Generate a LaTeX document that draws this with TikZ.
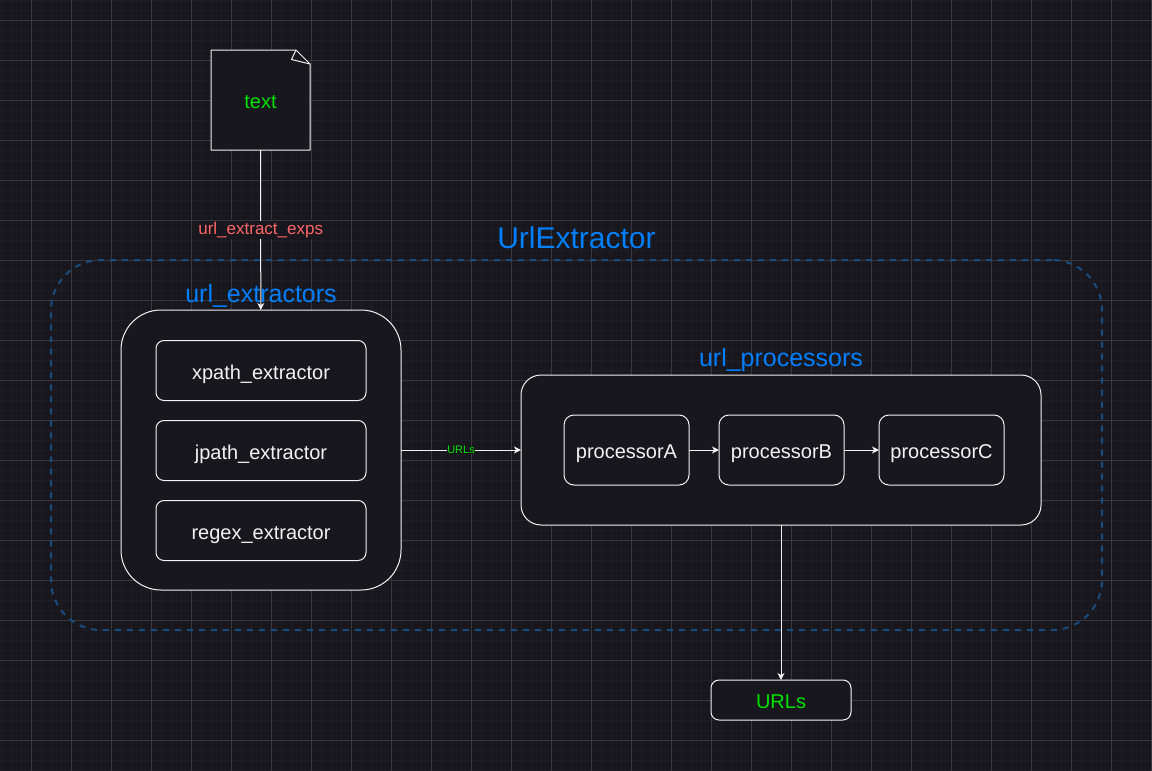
\documentclass[tikz,border=0pt]{standalone}
\usepackage{fontspec}
\setmainfont{Liberation Sans}
\usetikzlibrary{arrows.meta,positioning}

\definecolor{bgdark}{RGB}{24,23,30}
\definecolor{gridmajor}{RGB}{56,55,62}
\definecolor{gridminor}{RGB}{31,30,37}
\definecolor{edgewhite}{RGB}{242,242,242}
\definecolor{titleblue}{RGB}{0,127,255}
\definecolor{groupblue}{RGB}{26,76,126}
\definecolor{okgreen}{RGB}{0,228,0}
\definecolor{expred}{RGB}{255,102,102}

\tikzset{
    box/.style={draw=edgewhite, fill=bgdark, text=edgewhite, line width=1pt,
        inner sep=0pt, outer sep=0pt, text height=19pt, text depth=2pt,
        font=\fontsize{20}{24}\selectfont},
    extractor/.style={box, minimum width=210, minimum height=60, rounded corners=8},
    processor/.style={box, minimum width=125, minimum height=70, rounded corners=10},
    title/.style={text=titleblue, inner sep=0pt, anchor=base},
    flow/.style={draw=edgewhite, line width=1pt, -{Stealth[length=7pt,width=7pt,inset=2pt]}},
}

\begin{document}
\begin{tikzpicture}[x=1pt, y=-1pt]
    \useasboundingbox (0,0) rectangle (1152,771);
    \fill[bgdark] (0,0) rectangle (1152,771);
    \foreach \gx in {1.5,11.5,...,1151.5}
        \draw[gridminor, line width=0.7pt] (\gx,0) -- (\gx,771);
    \foreach \gy in {0,10,...,770}
        \draw[gridminor, line width=0.7pt] (0,\gy) -- (1152,\gy);
    \foreach \gx in {31.5,71.5,...,1151.5}
        \draw[gridmajor, line width=0.8pt] (\gx,0) -- (\gx,771);
    \foreach \gy in {20,60,...,740}
        \draw[gridmajor, line width=0.8pt] (0,\gy) -- (1152,\gy);

    \node[draw=groupblue, line width=2pt, dash pattern=on 6pt off 6pt, rounded corners=50,
        minimum width=1051, minimum height=370, inner sep=0pt] (grp) at (576.5,445) {};
    \node[title, font=\fontsize{30}{34}\selectfont] (grptitle) at (576.5,248) {UrlExtractor};

    \draw[fill=bgdark, draw=edgewhite, line width=1pt, line join=round]
        (211,50) -- (296,50) -- (310,64) -- (310,150) -- (211,150) -- cycle;
    \draw[edgewhite, line width=1pt, line join=round] (296,50) -- (291.5,59.5) -- (310,64);
    \node[text=okgreen, font=\fontsize{20}{24}\selectfont, minimum width=99, minimum height=100,
        text height=19pt, text depth=2pt, inner sep=0pt, outer sep=0pt] (txt) at (260.5,100) {text};

    \node[box, minimum width=280, minimum height=280, rounded corners=40] (ext) at (261,450) {};
    \node[title, font=\fontsize{25}{29}\selectfont] (exttitle) at (261,302) {url\_extractors};
    \node[extractor] (xpath) at (261,370.5) {xpath\_extractor};
    \node[extractor] (jpath) at (261,450.5) {jpath\_extractor};
    \node[extractor] (regex) at (261,530.5) {regex\_extractor};

    \node[box, minimum width=520, minimum height=150, rounded corners=20] (proc) at (781,450) {};
    \node[title, font=\fontsize{25}{29}\selectfont] (proctitle) at (781,366) {url\_processors};
    \node[processor] (procA) at (626.5,450) {processorA};
    \node[processor] (procB) at (781.5,450) {processorB};
    \node[processor] (procC) at (941.5,450) {processorC};

    \node[box, text=okgreen, minimum width=140, minimum height=40, rounded corners=8] (urls) at (781,700) {URLs};

    \draw[flow] (txt) -- (ext)
        node[midway, fill=bgdark, text=expred, inner sep=1pt, font=\fontsize{17}{20}\selectfont] {url\_extract\_exps};
    \draw[flow] (ext) -- (proc)
        node[midway, fill=bgdark, text=okgreen, inner sep=0.5pt, font=\fontsize{11}{13}\selectfont] {URLs};
    \draw[flow] (procA) -- (procB);
    \draw[flow] (procB) -- (procC);
    \draw[flow] (proc) -- (urls);
\end{tikzpicture}
\end{document}
